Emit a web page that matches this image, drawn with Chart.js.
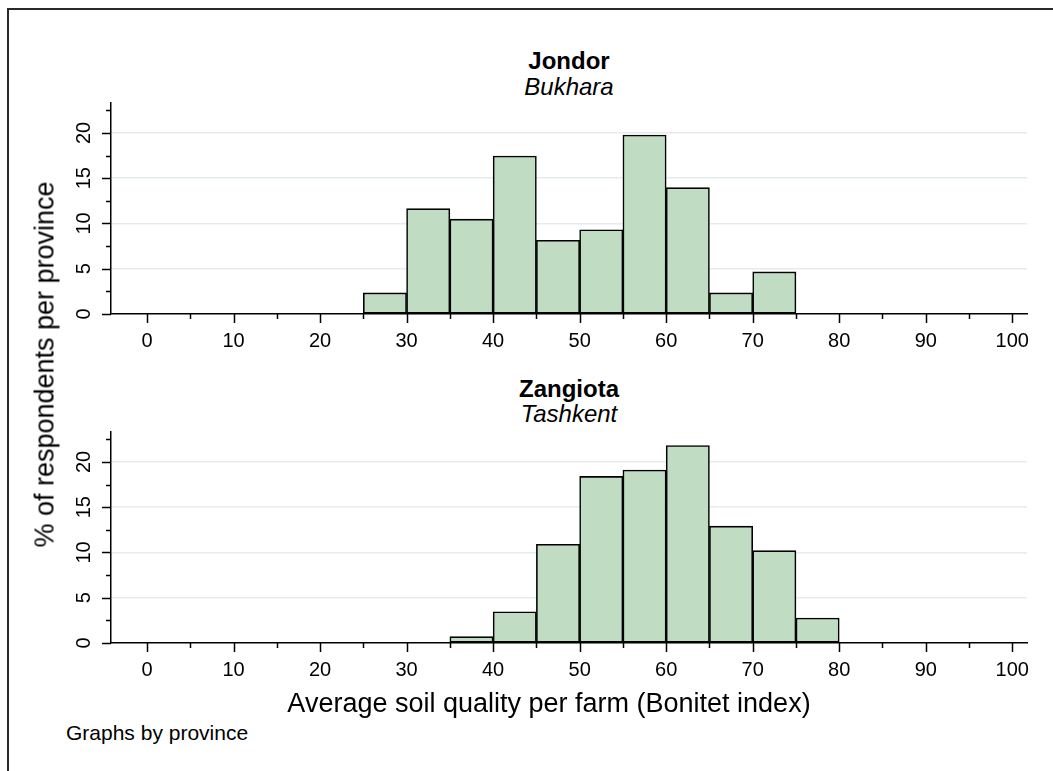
<!DOCTYPE html>
<html>
<head>
<meta charset="utf-8">
<title>Average soil quality per farm</title>
<script src="https://cdn.jsdelivr.net/npm/chart.js@4.4.1/dist/chart.umd.min.js"></script>
<style>
  html, body { margin: 0; padding: 0; background: #fff; overflow: hidden; }
  body { position: relative; width: 1053px; height: 771px; font-family: "Liberation Sans", Arial, sans-serif; color: #000; }
  .frame { position: absolute; left: 7px; top: 8px; width: 1100px; height: 820px; border: 2px solid #2a2a2a; }
  canvas { position: absolute; left: 0; }
  .title { position: absolute; left: 369px; width: 400px; text-align: center; font-size: 24px; line-height: 24px; white-space: nowrap; }
  .title.main { font-weight: bold; }
  .title.sub { font-style: italic; }
  .ytitle { position: absolute; left: -155px; top: 351px; width: 400px; text-align: center; font-size: 27px; line-height: 27px; transform: rotate(-90deg); white-space: nowrap; }
  .xtitle { position: absolute; left: 249px; top: 690px; width: 600px; text-align: center; font-size: 27px; line-height: 27px; white-space: nowrap; }
  .note { position: absolute; left: 66px; top: 722px; font-size: 21px; line-height: 21px; white-space: nowrap; }
</style>
</head>
<body>
<div class="frame"></div>

<div class="title main" style="top:48.5px">Jondor</div>
<div class="title sub" style="top:74.5px">Bukhara</div>
<canvas id="jondorChart" width="1053" height="260" style="top:100px"></canvas>

<div class="title main" style="top:376.5px">Zangiota</div>
<div class="title sub" style="top:402px">Tashkent</div>
<canvas id="zangiotaChart" width="1053" height="260" style="top:428.5px"></canvas>

<div class="ytitle">% of respondents per province</div>
<div class="xtitle">Average soil quality per farm (Bonitet index)</div>
<div class="note">Graphs by province</div>

<script>
// 直方图数据（每组宽 5）
const BIN_WIDTH = 5;
const jondorBinStarts = [25, 30, 35, 40, 45, 50, 55, 60, 65, 70];
const jondorPercent   = [2.33, 11.63, 10.47, 17.44, 8.14, 9.30, 19.77, 13.95, 2.33, 4.65];
const zangiotaBinStarts = [35, 40, 45, 50, 55, 60, 65, 70, 75];
const zangiotaPercent   = [0.7, 3.45, 10.9, 18.4, 19.1, 21.8, 12.9, 10.2, 2.75];

// 刻度
const xTickLabels = [0, 10, 20, 30, 40, 50, 60, 70, 80, 90, 100];
const yTickLabels = [0, 5, 10, 15, 20];

const X_MIN = -4.16;
const X_MAX = 101.7;
const Y_MAX = 23.3;

const BAR_FILL = '#c0dcc2';
const GRID_COLOR = '#e4ecef';

Chart.defaults.font.family = '"Liberation Sans", Arial, sans-serif';
Chart.defaults.color = '#000';

// 主刻度与次刻度线（次刻度在主刻度中间）
const tickMarks = {
  id: 'tickMarks',
  afterDraw(chart) {
    const { ctx, chartArea, scales } = chart;
    ctx.save();
    ctx.strokeStyle = '#000';
    ctx.lineWidth = 1.5;
    ctx.beginPath();
    const xStep = (xTickLabels[1] - xTickLabels[0]) / 2;
    for (let v = xTickLabels[0]; v <= xTickLabels[xTickLabels.length - 1]; v += xStep) {
      const px = Math.round(scales.x.getPixelForValue(v)) + 0.5;
      const len = xTickLabels.includes(v) ? 9 : 5;
      ctx.moveTo(px, chartArea.bottom);
      ctx.lineTo(px, chartArea.bottom + len);
    }
    const yStep = (yTickLabels[1] - yTickLabels[0]) / 2;
    for (let v = yTickLabels[0]; v <= Y_MAX; v += yStep) {
      const py = Math.round(scales.y.getPixelForValue(v)) + 0.5;
      const len = yTickLabels.includes(v) ? 9 : 5;
      ctx.moveTo(chartArea.left, py);
      ctx.lineTo(chartArea.left - len, py);
    }
    ctx.stroke();
    ctx.restore();
  }
};

function makePanel(canvasId, binStarts, values) {
  const points = binStarts.map((s, i) => ({ x: s + BIN_WIDTH / 2, y: values[i] }));
  const canvas = document.getElementById(canvasId);
  if (!canvas) {
    console.error('找不到画布:', canvasId);
    return null;
  }
  return new Chart(canvas, {
    type: 'bar',
    data: {
      datasets: [{
        data: points,
        backgroundColor: BAR_FILL,
        borderColor: '#000',
        borderWidth: 1.6,
        borderSkipped: false,
        barPercentage: 1,
        categoryPercentage: 1
      }]
    },
    options: {
      responsive: false,
      animation: false,
      events: [],
      layout: { padding: { top: 3, right: 26, bottom: 0, left: 0 } },
      plugins: {
        legend: { display: false },
        tooltip: { enabled: false }
      },
      scales: {
        x: {
          type: 'linear',
          offset: false,
          min: X_MIN,
          max: X_MAX,
          afterBuildTicks: s => { s.ticks = xTickLabels.map(v => ({ value: v })); },
          afterFit: s => {
            s.height = 46;
            s.paddingLeft = 0; s.paddingRight = 0; s.paddingTop = 0; s.paddingBottom = 0;
          },
          grid: { display: false, drawTicks: false },
          border: { display: true, color: '#000', width: 1.5 },
          ticks: { padding: 15, maxRotation: 0, minRotation: 0, font: { size: 20 }, color: '#000' }
        },
        y: {
          min: 0,
          max: Y_MAX,
          afterBuildTicks: s => { s.ticks = yTickLabels.map(v => ({ value: v })); },
          afterFit: s => {
            s.width = 111;
            s.paddingLeft = 0; s.paddingRight = 0; s.paddingTop = 0; s.paddingBottom = 0;
          },
          grid: {
            drawTicks: false,
            lineWidth: 1.5,
            color: c => (c.tick && c.tick.value === 0) ? 'rgba(0,0,0,0)' : GRID_COLOR
          },
          border: { display: true, color: '#000', width: 1.5 },
          ticks: { padding: 15, minRotation: 90, maxRotation: 90, crossAlign: 'center', font: { size: 20 }, color: '#000' }
        }
      }
    },
    plugins: [tickMarks]
  });
}

makePanel('jondorChart', jondorBinStarts, jondorPercent);
makePanel('zangiotaChart', zangiotaBinStarts, zangiotaPercent);
</script>
</body>
</html>
